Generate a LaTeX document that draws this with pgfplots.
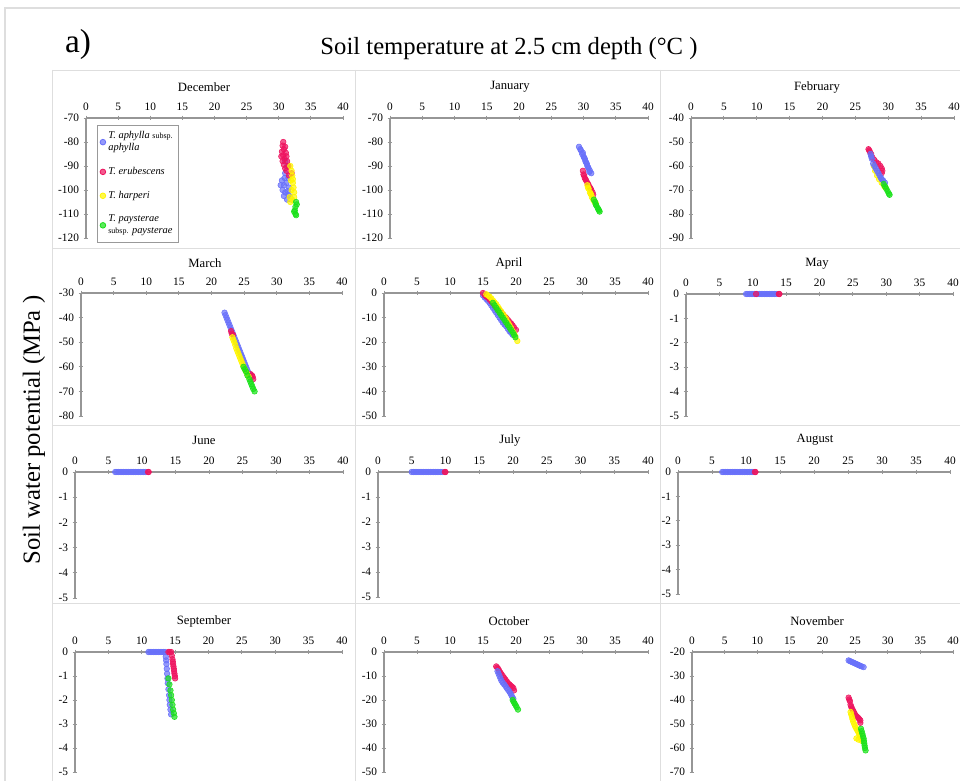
\documentclass[border=0pt]{standalone}
\usepackage{pgfplots}
\pgfplotsset{compat=1.18}
\usepackage{fontspec}
\setmainfont{Liberation Serif}

\definecolor{cBlue}{RGB}{104,112,250}
\definecolor{cRed}{RGB}{238,20,95}
\definecolor{cYel}{RGB}{255,246,0}
\definecolor{cGrn}{RGB}{25,225,25}
\definecolor{axgray}{RGB}{150,150,150}
\definecolor{cellgray}{RGB}{222,222,222}

\pgfplotsset{
  panel/.style={
    scale only axis, anchor=north west,
    axis x line*=top, axis y line*=left,
    xmin=0, xmax=40, xtick={0,5,...,40},
    axis line style={axgray, line width=0.9pt},
    tick style={axgray, line width=0.6pt},
    major tick length=3.5pt, tick align=center,
    ticklabel style={font=\fontsize{8.5}{9}\selectfont},
    /pgf/number format/assume math mode=true,
    clip=false,
  },
  sp/.style={only marks, mark=*, mark size=2.1pt, color=#1,
    mark options={draw=none, fill=#1, fill opacity=0.7}},
}
\newcommand{\mtitle}[3]{\node[font=\fontsize{9.5}{10}\selectfont] at (#1,#2) {#3};}

\begin{document}
\begin{tikzpicture}[x=0.75pt,y=-0.75pt]
\path[use as bounding box] (0,0) rectangle (960,781);

% outer frame and cell grid
\draw[cellgray, line width=0.8pt] (5,781) -- (5,8) -- (960,8);
\draw[cellgray, line width=0.7pt] (52,70) -- (960,70);
\foreach \yy in {248,425,603} \draw[cellgray, line width=0.7pt] (52,\yy) -- (960,\yy);
\foreach \xx in {52,355,660} \draw[cellgray, line width=0.7pt] (\xx,70) -- (\xx,781);

% headings
\node[font=\fontsize{25}{27}\selectfont] at (78,44) {a)};
\node[font=\fontsize{18.5}{20}\selectfont] at (509,49) {Soil temperature at 2.5 cm depth (°C )};
\node[font=\fontsize{18.5}{20}\selectfont, rotate=90] at (34,430) {Soil water potential (MPa )};

\mtitle{204}{87}{December}
\mtitle{510}{87}{January}
\mtitle{817}{87}{February}
\mtitle{205}{263}{March}
\mtitle{509}{263}{April}
\mtitle{817}{264}{May}
\mtitle{204}{440}{June}
\mtitle{510}{440}{July}
\mtitle{815}{440}{August}
\mtitle{204}{621}{September}
\mtitle{509}{621}{October}
\mtitle{817}{621}{November}

% ---------------- December ----------------
\begin{axis}[panel, at={(64.5pt,-88.5pt)}, width=192.75pt, height=90pt,
  ymin=-120, ymax=-70, ytick={-120,-110,...,-70},
  legend style={at={(axis description cs:0.043,0.945)}, anchor=north west,
    draw=gray!80, line width=0.6pt, font=\fontsize{7.8}{8.8}\selectfont\itshape,
    cells={anchor=west, align=left}, row sep=7pt, inner xsep=2pt, inner ysep=3pt},
  legend cell align=left]
\addplot[sp=cBlue] coordinates {(31.0,-88) (31.3,-90) (31.0,-93) (31.5,-95) (30.5,-96) (30.8,-98) (31.2,-97) (31.6,-99) (30.6,-100) (31.0,-101) (31.5,-102) (31.8,-103) (31.3,-104) (32.0,-104) (30.8,-102.5) (30.3,-98) (30.9,-95) (31.4,-100.5)};
\addplot[sp=cRed] coordinates {(30.7,-80) (30.6,-81.5) (31.0,-82) (30.8,-83) (30.5,-84) (31.1,-84.5) (30.7,-85.5) (30.4,-86) (31.2,-86) (30.9,-87) (30.6,-88) (31.3,-88) (30.8,-89.5) (31.0,-91) (31.5,-90) (31.2,-92) (32.0,-93) (31.6,-94)};
\addplot[sp=cYel] coordinates {(31.8,-90) (32.0,-92) (32.1,-94) (31.9,-96) (32.2,-97) (32.3,-99) (32.0,-100) (32.4,-101) (31.7,-103) (32.1,-104) (32.4,-103) (31.8,-105) (32.2,-95.5)};
\addplot[sp=cGrn] coordinates {(32.7,-105) (32.8,-106) (32.6,-107) (32.5,-108.5) (32.4,-109) (32.6,-110) (32.7,-110.5)};
\legend{T. aphylla {\upshape\fontsize{6}{7}\selectfont subsp.}\\aphylla,
        T. erubescens, T. harperi,
        T. paysterae\\{\upshape\fontsize{6}{7}\selectfont subsp.} paysterae}
\end{axis}

% ---------------- January ----------------
\begin{axis}[panel, at={(292.5pt,-88.5pt)}, width=193.5pt, height=90pt,
  ymin=-120, ymax=-70, ytick={-120,-110,...,-70}]
\addplot[sp=cBlue] coordinates {(29.3,-82) (29.5,-83) (29.6,-83.5) (29.9,-84.5) (29.8,-85) (30.0,-86) (30.1,-86.5) (30.2,-87) (30.3,-88) (30.4,-88.5) (30.5,-89) (30.6,-90) (30.7,-90.5) (30.8,-91) (31.0,-92) (30.9,-92.5) (31.2,-93)};
\addplot[sp=cRed] coordinates {(29.9,-92) (30.0,-93.5) (30.1,-94) (30.2,-95) (30.3,-95.5) (30.4,-96) (30.6,-97) (30.7,-97.5) (30.8,-98) (31.0,-99) (31.1,-99.5) (31.2,-100) (31.4,-101) (31.5,-102)};
\addplot[sp=cYel] coordinates {(30.6,-98) (30.7,-99) (30.8,-99.5) (31.0,-101) (31.1,-101.5) (31.2,-102) (31.3,-103) (31.5,-104) (31.7,-105) (31.9,-105.5)};
\addplot[sp=cGrn] coordinates {(31.6,-104) (31.8,-105) (31.9,-106) (32.0,-106.5) (32.2,-107.5) (32.3,-108) (32.4,-108.5) (32.5,-109)};
\end{axis}

% ---------------- February ----------------
\begin{axis}[panel, at={(518.25pt,-88.5pt)}, width=197.25pt, height=90pt,
  ymin=-90, ymax=-40, ytick={-90,-80,...,-40}]
\addplot[sp=cRed] coordinates {(27.0,-53) (27.1,-53.5) (27.2,-54) (27.4,-55) (27.6,-56.5) (27.9,-57.5) (28.2,-58.5) (28.5,-59) (28.8,-60) (29.0,-61) (29.1,-62) (29.0,-63)};
\addplot[sp=cYel] coordinates {(27.8,-60) (28.0,-62) (28.3,-64) (28.6,-65.5) (29.0,-67) (29.4,-68.5) (29.6,-69)};
\addplot[sp=cBlue] coordinates {(27.3,-55) (27.4,-56) (27.5,-57) (27.7,-59) (27.9,-60) (28.1,-61) (28.3,-62) (28.5,-63) (28.7,-64) (28.9,-65) (29.0,-65.5) (29.2,-66) (29.5,-67)};
\addplot[sp=cGrn] coordinates {(29.3,-67.5) (29.5,-68.5) (29.7,-69.5) (29.9,-70.5) (30.1,-71.5) (30.2,-72)};
\end{axis}

% ---------------- March ----------------
\begin{axis}[panel, at={(60.75pt,-219.75pt)}, width=195.75pt, height=92.25pt,
  ymin=-80, ymax=-30, ytick={-80,-70,...,-30}]
\addplot[sp=cBlue] coordinates {(22.0,-38) (22.15,-39) (22.3,-40) (22.45,-41) (22.6,-42) (22.75,-43) (22.9,-44) (23.05,-45) (23.2,-46) (23.35,-47) (23.5,-48) (23.65,-49) (23.8,-50) (23.95,-51) (24.1,-52) (24.25,-53) (24.4,-54) (24.55,-55) (24.7,-56) (24.85,-57) (25.0,-58) (25.15,-59) (25.3,-60) (25.45,-61) (25.6,-62) (25.9,-63)};
\addplot[sp=cRed] coordinates {(23.0,-45.5) (23.1,-46.5) (23.3,-47) (26.0,-63) (26.2,-63.5) (26.3,-64) (26.4,-65)};
\addplot[sp=cYel] coordinates {(23.2,-48) (23.35,-49) (23.5,-50) (23.65,-51.2) (23.8,-52.5) (23.95,-53.5) (24.1,-54.5) (24.25,-55.5) (24.4,-56.5) (24.55,-57.5) (24.7,-58.5) (24.85,-59.5) (25.0,-60.5) (25.2,-61.5) (25.4,-62.5) (25.7,-64)};
\addplot[sp=cGrn] coordinates {(24.9,-60) (25.1,-61) (25.3,-62) (25.5,-63.5) (25.8,-65) (25.95,-66) (26.1,-67) (26.25,-68) (26.4,-69) (26.6,-70)};
\end{axis}

% ---------------- April ----------------
\begin{axis}[panel, at={(288pt,-219.75pt)}, width=198pt, height=92.25pt,
  ymin=-50, ymax=0, ytick={-50,-40,...,0}]
\addplot[sp=cBlue] coordinates {(15.0,-1) (15.25,-1.8) (15.5,-2.5) (15.75,-3.2) (16.0,-4) (16.25,-5) (16.5,-6) (16.75,-7) (17.0,-8) (17.25,-9) (17.5,-10) (17.75,-11) (18.0,-12) (18.25,-12.8) (18.5,-13.5) (18.75,-14.5) (19.0,-15.5) (19.25,-16.2) (19.5,-17)};
\addplot[sp=cRed] coordinates {(15.0,0) (15.3,-1) (15.55,-1.5) (15.8,-2) (16.05,-2.8) (16.3,-3.5) (16.55,-4.2) (16.8,-5) (17.05,-5.8) (17.3,-6.5) (17.55,-7.2) (17.8,-8) (18.05,-8.8) (18.3,-9.5) (18.55,-10.2) (18.8,-11) (19.05,-11.8) (19.3,-12.5) (19.5,-13.2) (19.7,-14) (20.0,-15)};
\addplot[sp=cYel] coordinates {(15.5,-0.5) (15.75,-1) (16.0,-1.5) (16.25,-2.2) (16.5,-3) (16.75,-3.8) (17.0,-4.5) (17.25,-5.5) (17.5,-6.5) (17.75,-7.5) (18.0,-8.5) (18.25,-9.5) (18.5,-10.5) (18.75,-11.8) (19.0,-13) (19.25,-14.2) (19.5,-15.5) (19.7,-16.5) (19.9,-17.5) (20.2,-19.5)};
\addplot[sp=cGrn] coordinates {(16.5,-4) (16.75,-5) (17.0,-6) (17.25,-7) (17.5,-8) (17.75,-9) (18.0,-10) (18.25,-11) (18.5,-12) (18.75,-13) (19.0,-14) (19.25,-15) (19.5,-16) (19.7,-17) (19.9,-18)};
\end{axis}

% ---------------- May ----------------
\begin{axis}[panel, at={(514.5pt,-220.5pt)}, width=200.25pt, height=91.5pt,
  ymin=-5, ymax=0, ytick={-5,-4,...,0}]
\addplot[sp=cBlue] coordinates {(9.0,0) (9.25,0) (9.5,0) (9.75,0) (10.0,0) (10.25,0) (10.5,0) (10.75,0) (11.0,0) (11.25,0) (11.5,0) (11.75,0) (12.0,0) (12.25,0) (12.5,0) (12.75,0) (13.0,0) (13.25,0) (13.5,0)};
\addplot[sp=cRed] coordinates {(10.5,0) (13.9,0) (14.0,0)};
\end{axis}

% ---------------- June ----------------
\begin{axis}[panel, at={(56.25pt,-354pt)}, width=201pt, height=94.5pt,
  ymin=-5, ymax=0, ytick={-5,-4,...,0}]
\addplot[sp=cBlue] coordinates {(6.0,0) (6.25,0) (6.5,0) (6.75,0) (7.0,0) (7.25,0) (7.5,0) (7.75,0) (8.0,0) (8.25,0) (8.5,0) (8.75,0) (9.0,0) (9.25,0) (9.5,0) (9.75,0) (10.0,0) (10.25,0) (10.5,0)};
\addplot[sp=cRed] coordinates {(10.9,0) (11.0,0)};
\end{axis}

% ---------------- July ----------------
\begin{axis}[panel, at={(283.5pt,-354pt)}, width=202.5pt, height=93.75pt,
  ymin=-5, ymax=0, ytick={-5,-4,...,0}]
\addplot[sp=cBlue] coordinates {(5.0,0) (5.25,0) (5.5,0) (5.75,0) (6.0,0) (6.25,0) (6.5,0) (6.75,0) (7.0,0) (7.25,0) (7.5,0) (7.75,0) (8.0,0) (8.25,0) (8.5,0) (8.75,0) (9.0,0) (9.25,0) (9.5,0)};
\addplot[sp=cRed] coordinates {(9.9,0) (10.0,0)};
\end{axis}

% ---------------- August ----------------
\begin{axis}[panel, at={(508.5pt,-354pt)}, width=204pt, height=91.5pt,
  ymin=-5, ymax=0, ytick={-5,-4,...,0}]
\addplot[sp=cBlue] coordinates {(6.5,0) (6.75,0) (7.0,0) (7.25,0) (7.5,0) (7.75,0) (8.0,0) (8.25,0) (8.5,0) (8.75,0) (9.0,0) (9.25,0) (9.5,0) (9.75,0) (10.0,0) (10.25,0) (10.5,0) (10.75,0) (11.0,0)};
\addplot[sp=cRed] coordinates {(11.3,0) (11.4,0)};
\end{axis}

% ---------------- September ----------------
\begin{axis}[panel, at={(56.25pt,-489pt)}, width=200.25pt, height=90pt,
  ymin=-5, ymax=0, ytick={-5,-4,...,0}]
\addplot[sp=cBlue] coordinates {(11.0,0) (11.25,0) (11.5,0) (11.75,0) (12.0,0) (12.25,0) (12.5,0) (12.75,0) (13.0,0) (13.25,0) (13.5,0) (13.6,-0.2) (13.65,-0.35) (13.7,-0.5) (13.75,-0.7) (13.8,-0.9) (13.85,-1.1) (13.9,-1.3) (14.0,-1.55) (14.1,-1.8) (14.15,-2.0) (14.2,-2.2) (14.3,-2.4) (14.4,-2.6)};
\addplot[sp=cRed] coordinates {(14.0,0) (14.2,0) (14.4,0) (14.5,-0.15) (14.6,-0.3) (14.65,-0.4) (14.7,-0.5) (14.75,-0.6) (14.8,-0.7) (14.85,-0.8) (14.9,-0.9) (14.95,-1.0) (15.0,-1.1)};
\addplot[sp=cGrn] coordinates {(14.0,-1.1) (14.15,-1.35) (14.3,-1.6) (14.4,-1.8) (14.5,-2.0) (14.6,-2.2) (14.7,-2.4) (14.8,-2.55) (14.9,-2.7)};
\end{axis}

% ---------------- October ----------------
\begin{axis}[panel, at={(288pt,-489pt)}, width=198pt, height=90pt,
  ymin=-50, ymax=0, ytick={-50,-40,...,0}]
\addplot[sp=cRed] coordinates {(17.0,-6) (17.15,-6.5) (17.3,-7) (17.45,-7.8) (17.6,-8.5) (17.8,-9.2) (18.0,-10) (18.2,-10.8) (18.4,-11.5) (18.6,-12.2) (18.8,-13) (19.0,-13.5) (19.2,-14) (19.4,-14.5) (19.6,-15) (19.7,-16)};
\addplot[sp=cBlue] coordinates {(17.2,-8) (17.35,-9) (17.5,-10) (17.65,-11) (17.8,-12) (18.0,-12.8) (18.2,-13.5) (18.4,-14.2) (18.6,-15) (18.8,-15.8) (19.0,-16.5) (19.15,-17.2) (19.3,-18) (19.45,-18.8) (19.6,-19.5)};
\addplot[sp=cGrn] coordinates {(19.5,-20) (19.65,-20.8) (19.8,-21.5) (19.95,-22.2) (20.1,-23) (20.3,-24)};
\end{axis}

% ---------------- November ----------------
\begin{axis}[panel, at={(519pt,-489pt)}, width=195.75pt, height=90pt,
  ymin=-70, ymax=-20, ytick={-70,-60,...,-20}]
\addplot[sp=cBlue] coordinates {(24.0,-23.5) (24.2,-23.8) (24.4,-24) (24.6,-24.3) (24.8,-24.5) (25.0,-24.8) (25.2,-25) (25.4,-25.3) (25.6,-25.5) (25.8,-25.8) (26.0,-26) (26.3,-26.3)};
\addplot[sp=cRed] coordinates {(24.0,-39) (24.1,-39.8) (24.2,-40.5) (24.3,-42) (24.4,-42.8) (24.5,-43.5) (24.65,-44.2) (24.8,-45) (24.95,-45.8) (25.1,-46.5) (25.3,-47) (25.5,-47.5) (25.65,-48) (25.8,-48.5) (25.8,-49.5)};
\addplot[sp=cYel] coordinates {(24.3,-45) (24.4,-46) (24.5,-47) (24.6,-48) (24.7,-49) (24.85,-50) (25.0,-51) (25.15,-51.8) (25.3,-52.5) (25.45,-53.2) (25.6,-54) (25.7,-54.8) (25.8,-55.5) (25.2,-56) (25.5,-56.5) (26.0,-57)};
\addplot[sp=cGrn] coordinates {(25.9,-52) (26.0,-53) (26.1,-54) (26.2,-55) (26.3,-56) (26.35,-57) (26.4,-58) (26.45,-59) (26.5,-60) (26.6,-61)};
\end{axis}
\end{tikzpicture}
\end{document}
